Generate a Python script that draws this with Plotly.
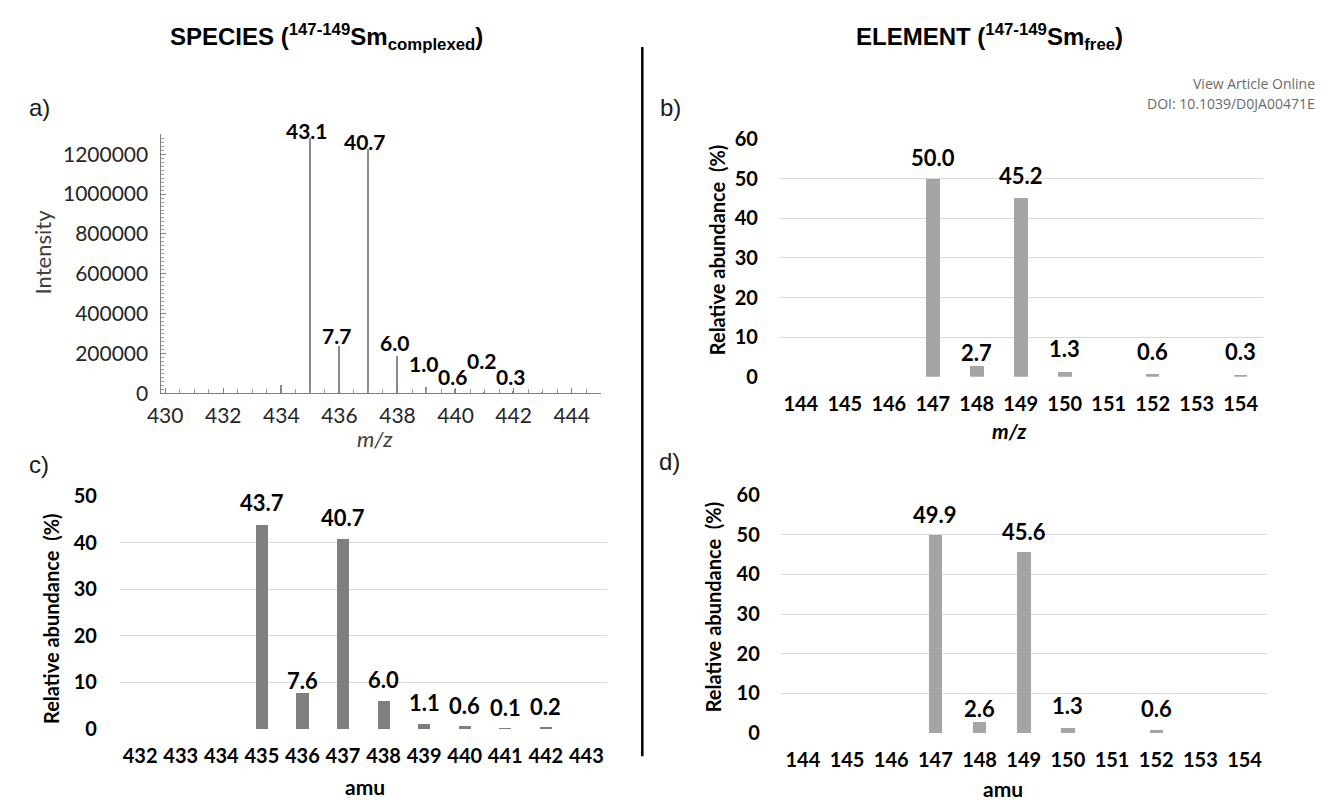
import plotly.graph_objects as go

W, H = 1325, 807

# ---------------- data ----------------
# panel a) mass spectrum of the complexed species
a_mz = [434, 435, 436, 437, 438, 439, 440, 441, 442, 443]
a_intensity = [40000, 1278000, 235000, 1224000, 185000, 32000, 20000, 7000, 10000, 4000]
a_percent = [None, 43.1, 7.7, 40.7, 6.0, 1.0, 0.6, 0.2, 0.3, None]
a_xticks = [430, 432, 434, 436, 438, 440, 442, 444]
a_yticks = [0, 200000, 400000, 600000, 800000, 1000000, 1200000]

# panel c) relative abundance of the species
c_amu = [432, 433, 434, 435, 436, 437, 438, 439, 440, 441, 442, 443]
c_abund = [0, 0, 0, 43.7, 7.6, 40.7, 6.0, 1.1, 0.6, 0.1, 0.2, 0]

# panel b) element, m/z
b_mz = [144, 145, 146, 147, 148, 149, 150, 151, 152, 153, 154]
b_abund = [0, 0, 0, 50.0, 2.7, 45.2, 1.3, 0, 0.6, 0, 0.3]

# panel d) element, amu
d_amu = [144, 145, 146, 147, 148, 149, 150, 151, 152, 153, 154]
d_abund = [0, 0, 0, 49.9, 2.6, 45.6, 1.3, 0, 0.6, 0, 0]

# label offsets (px above the bar / peak top)
a_label_up = [0, 8, 11, 8, 14, 23, 13, 31, 15, 0]
c_label_up = [0, 0, 0, 23, 13, 22, 22, 21, 21, 21, 22, 0]
b_label_up = [0, 0, 0, 21, 14, 22, 23, 0, 23, 0, 24]
d_label_up = [0, 0, 0, 21, 14, 21, 22, 0, 22, 0, 0]

# ---------------- helpers ----------------
def dx(p0, p1):
    return [p0 / W, p1 / W]

def dy(top, bottom):
    return [1 - bottom / H, 1 - top / H]

def px(x):
    return x / W

def py(y):
    return 1 - y / H

BODY = "Lato, 'Open Sans', sans-serif"
ARIAL = "'Liberation Sans', Arial, sans-serif"

fig = go.Figure()

# panel a: peaks as thin bars
fig.add_trace(go.Bar(x=a_mz, y=a_intensity, width=0.055, marker_color="#8a8a8a",
                     marker_line_width=0, xaxis="x", yaxis="y", showlegend=False))
# panel c
fig.add_trace(go.Bar(x=c_amu, y=c_abund, width=0.3, marker_color="#7f7f7f",
                     marker_line_width=0, xaxis="x2", yaxis="y2", showlegend=False))
# panel b
fig.add_trace(go.Bar(x=b_mz, y=b_abund, width=0.3, marker_color="#a5a5a5",
                     marker_line_width=0, xaxis="x3", yaxis="y3", showlegend=False))
# panel d
fig.add_trace(go.Bar(x=d_amu, y=d_abund, width=0.3, marker_color="#a5a5a5",
                     marker_line_width=0, xaxis="x4", yaxis="y4", showlegend=False))

bold_tick = dict(family=BODY, size=20, color="#000000", weight="bold")
a_tick = dict(family=BODY, size=21, color="#262626")

layout = dict(
    width=W, height=H,
    margin=dict(l=0, r=0, t=0, b=0),
    paper_bgcolor="white", plot_bgcolor="white",
    bargap=0,
    showlegend=False,
    # panel a
    xaxis=dict(domain=dx(149, 593), anchor="y", range=[429.87, 445],
               tickvals=a_xticks, ticks="inside", ticklen=5, tickcolor="#7f7f7f",
               minor=dict(dtick=0.5, tick0=430, ticks="inside", ticklen=4, tickcolor="#9a9a9a"),
               showline=True, linecolor="#7f7f7f", linewidth=1, showgrid=False, zeroline=False,
               tickfont=a_tick, ticklabelstandoff=3),
    yaxis=dict(domain=dy(125, 392), anchor="x", range=[0, 1300000],
               tickvals=a_yticks, ticks="inside", ticklen=5, tickcolor="#7f7f7f",
               minor=dict(dtick=20000, tick0=0, ticks="inside", ticklen=3, tickcolor="#a0a0a0"),
               showline=True, linecolor="#7f7f7f", linewidth=1, showgrid=False, zeroline=False,
               tickformat="d",
               tickfont=a_tick, ticklabelstandoff=8),
    # panel c
    xaxis2=dict(domain=dx(107, 599), anchor="y2", range=[431.5, 443.5],
                tickvals=c_amu, ticks="", showline=False, showgrid=False, zeroline=False,
                tickfont=bold_tick, ticklabelstandoff=13),
    yaxis2=dict(domain=dy(498, 738), anchor="x2", range=[0, 50], dtick=10,
                ticks="", showline=False, showgrid=True, gridcolor="#d9d9d9", gridwidth=1,
                zeroline=False, tickfont=bold_tick, ticklabelstandoff=22),
    # panel b
    xaxis3=dict(domain=dx(773, 1262), anchor="y3", range=[143.5, 154.5],
                tickvals=b_mz, ticks="", showline=False, showgrid=False, zeroline=False,
                tickfont=bold_tick, ticklabelstandoff=13),
    yaxis3=dict(domain=dy(130, 375), anchor="x3", range=[0, 60], dtick=10,
                ticks="", showline=False, showgrid=True, gridcolor="#d9d9d9", gridwidth=1,
                zeroline=False, tickfont=bold_tick, ticklabelstandoff=20),
    # panel d
    xaxis4=dict(domain=dx(775, 1266), anchor="y4", range=[143.5, 154.5],
                tickvals=d_amu, ticks="", showline=False, showgrid=False, zeroline=False,
                tickfont=bold_tick, ticklabelstandoff=13),
    yaxis4=dict(domain=dy(497, 742), anchor="x4", range=[0, 60], dtick=10,
                ticks="", showline=False, showgrid=True, gridcolor="#d9d9d9", gridwidth=1,
                zeroline=False, tickfont=bold_tick, ticklabelstandoff=20),
)
fig.update_layout(**layout)

ann = []

def paper_text(x, y, text, size, family=BODY, color="#000000", angle=0,
               xanchor="center", weight="normal", style="normal"):
    ann.append(dict(x=px(x), y=py(y), xref="paper", yref="paper", text=text,
                    showarrow=False, xanchor=xanchor, yanchor="middle", textangle=angle,
                    borderpad=0,
                    font=dict(family=family, size=size, color=color, weight=weight, style=style)))

# titles
paper_text(316, 25, "SPECIES (<sup>147-149</sup>Sm<sub>complexed</sub>)", 24, ARIAL, weight="bold")
paper_text(986, 25, "ELEMENT (<sup>147-149</sup>Sm<sub>free</sub>)", 24, ARIAL, weight="bold")
paper_text(1316, 73, "View Article Online", 14, "'Open Sans', sans-serif", "#6a6a6a", xanchor="right")
paper_text(1316, 93, "DOI: 10.1039/D0JA00471E", 14, "'Open Sans', sans-serif", "#6a6a6a", xanchor="right")

# panel letters
paper_text(26, 97, "a)", 24, ARIAL, "#1a1a1a")
paper_text(664, 97, "b)", 24, ARIAL, "#1a1a1a")
paper_text(25, 465, "c)", 24, ARIAL, "#1a1a1a")
paper_text(663, 462, "d)", 24, ARIAL, "#1a1a1a")

# axis titles
NB = "\u00a0"
paper_text(29, 246, "Intensity", 22, BODY, "#404040", angle=-90)
paper_text(365, 439, "m/z", 22, BODY, "#404040", style="italic")
paper_text(38, 624, "Relative abundance" + NB + NB + "(%)", 20, BODY, angle=-90, weight="bold")
paper_text(355, 797, "amu", 21, BODY, weight="bold")
paper_text(710, 244, "Relative abundance" + NB + NB + "(%)", 20, BODY, angle=-90, weight="bold")
paper_text(1006, 430, "m/z", 21, BODY, weight="bold", style="italic")
paper_text(706, 612, "Relative abundance" + NB + NB + "(%)", 20, BODY, angle=-90, weight="bold")
paper_text(1000, 799, "amu", 21, BODY, weight="bold")

label_font = dict(family=BODY, size=22, color="#000000", weight="bold")

# panel a peak labels
for m, inten, pct, up in zip(a_mz, a_intensity, a_percent, a_label_up):
    if pct is None:
        continue
    ann.append(dict(x=m, y=inten, xref="x", yref="y", text=f"{pct:.1f}", showarrow=False,
                    xanchor="center", yanchor="middle", yshift=up, xshift=-3, borderpad=0,
                    font=dict(family=BODY, size=21, color="#000000", weight="bold")))

def bar_labels(xs, vals, ups, xr, yr):
    for xv, v, up in zip(xs, vals, ups):
        if v <= 0:
            continue
        ann.append(dict(x=xv, y=v, xref=xr, yref=yr, text=f"{v:.1f}", showarrow=False,
                        xanchor="center", yanchor="middle", yshift=up, borderpad=0,
                        font=label_font))

bar_labels(c_amu, c_abund, c_label_up, "x2", "y2")
bar_labels(b_mz, b_abund, b_label_up, "x3", "y3")
bar_labels(d_amu, d_abund, d_label_up, "x4", "y4")

fig.update_layout(annotations=ann)

# vertical divider
fig.add_shape(type="line", xref="paper", yref="paper", x0=px(635), x1=px(635),
              y0=py(35), y1=py(766), line=dict(color="#000000", width=2.5))

fig.write_html("out.html")
